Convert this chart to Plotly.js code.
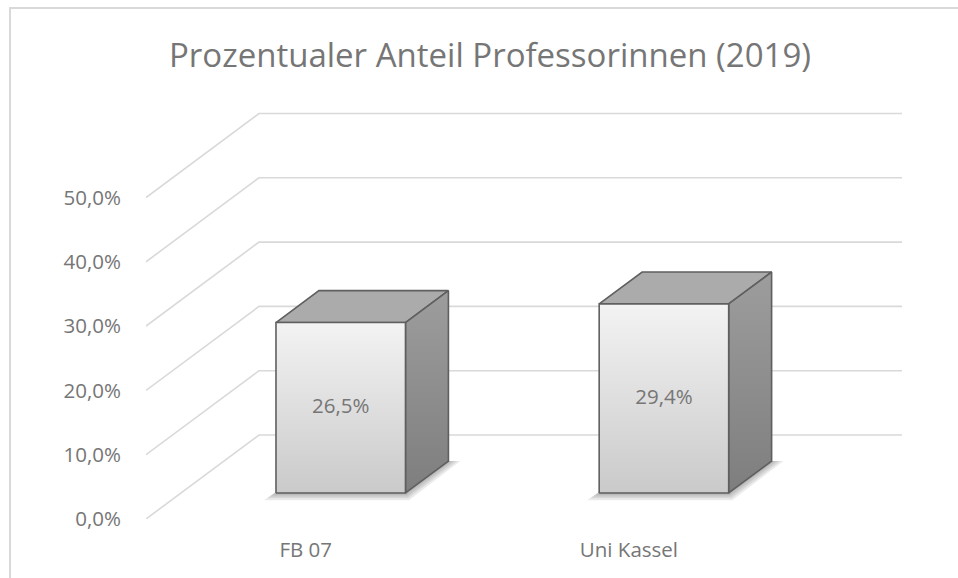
<!DOCTYPE html>
<html>
<head>
<meta charset="utf-8">
<script src="https://cdn.plot.ly/plotly-3.0.1.min.js"></script>
<style>
  html, body { margin: 0; padding: 0; background: #ffffff; overflow: hidden; }
  #chart { position: absolute; left: 0; top: 0; width: 958px; height: 578px; }
  #frame { position: absolute; left: 9px; top: 7px; width: 1000px; height: 1000px;
           border: 2px solid #d9d9d9; pointer-events: none; }
</style>
</head>
<body>
<div id="chart"></div>
<div id="frame"></div>
<script>
// ---- data ----
const categories = ['FB 07', 'Uni Kassel'];
const values = [26.5, 29.4];
const yTicks = [0, 10, 20, 30, 40, 50];
const chartTitle = 'Prozentualer Anteil Professorinnen (2019)';

// ---- layout geometry (pixels) ----
const W = 958, H = 578;
const PLOT_L = 146, PLOT_R = 902, PLOT_T = 90, PLOT_B = 519;
const PX_PER_CAT = 323.2, PX_PER_PCT = 6.43, CAT0_PX = 305.7;
const xRange = [(PLOT_L - CAT0_PX) / PX_PER_CAT, (PLOT_R - CAT0_PX) / PX_PER_CAT];
const yRange = [0, (PLOT_B - PLOT_T) / PX_PER_PCT];
const DX = 113 / PX_PER_CAT, DY = 84 / PX_PER_PCT;   // full depth offset
const D0 = 0.31, D1 = 0.69;                            // bar front/back depth
const BW = 129.5 / PX_PER_CAT;                         // bar width

const P = (x, v, d) => [x + d * DX, v + d * DY];
const fmt = v => v.toFixed(1).replace('.', ',') + '%';

const traces = [];

// gridlines: left wall diagonals + back wall horizontals
const gx = [], gy = [];
yTicks.forEach(v => {
  const a = P(xRange[0], v, 0), b = P(xRange[0], v, 1);
  gx.push(a[0], b[0], xRange[1], null);
  gy.push(a[1], b[1], b[1], null);
});
traces.push({ x: gx, y: gy, type: 'scatter', mode: 'lines',
  line: { color: '#d9d9d9', width: 1.6 }, hoverinfo: 'skip' });

function poly(pts) {
  return { x: pts.map(p => p[0]).concat([pts[0][0]]), y: pts.map(p => p[1]).concat([pts[0][1]]) };
}

categories.forEach((c, i) => {
  const v = values[i];
  const xl = i - BW / 2, xr = i + BW / 2;
  // soft shadow around the footprint
  [12, 9, 6, 3].forEach(e => {
    const ex = e / PX_PER_CAT, ey = e / PX_PER_PCT * 0.6;
    const pts = [
      [P(xl, 0, D0)[0] - ex, P(xl, 0, D0)[1] - ey],
      [P(xr, 0, D0)[0] + ex * 0.3, P(xr, 0, D0)[1] - ey],
      [P(xr, 0, D1)[0] + ex, P(xr, 0, D1)[1]],
      [P(xl, 0, D1)[0], P(xl, 0, D1)[1]]
    ];
    const pg = poly(pts);
    traces.push({ x: pg.x, y: pg.y, type: 'scatter', mode: 'none', fill: 'toself',
      fillcolor: 'rgba(0,0,0,0.08)', hoverinfo: 'skip' });
  });
  // top face
  let pg = poly([P(xl, v, D0), P(xr, v, D0), P(xr, v, D1), P(xl, v, D1)]);
  traces.push({ x: pg.x, y: pg.y, type: 'scatter', mode: 'lines', fill: 'toself',
    fillcolor: '#ababab', line: { color: '#5f5f5f', width: 1.6 }, hoverinfo: 'skip' });
  // side face
  pg = poly([P(xr, 0, D0), P(xr, v, D0), P(xr, v, D1), P(xr, 0, D1)]);
  traces.push({ x: pg.x, y: pg.y, type: 'scatter', mode: 'lines', fill: 'toself',
    fillcolor: '#8c8c8c',
    fillgradient: { type: 'vertical', colorscale: [[0, '#7e7e7e'], [1, '#9d9d9d']] },
    line: { color: '#5f5f5f', width: 1.6 }, hoverinfo: 'skip' });
  // front face
  pg = poly([P(xl, 0, D0), P(xr, 0, D0), P(xr, v, D0), P(xl, v, D0)]);
  traces.push({ x: pg.x, y: pg.y, type: 'scatter', mode: 'lines', fill: 'toself',
    fillcolor: '#dedede',
    fillgradient: { type: 'vertical', colorscale: [[0, '#cacaca'], [1, '#f3f3f3']] },
    line: { color: '#5f5f5f', width: 1.6 }, hoverinfo: 'skip' });
});

// value labels on the front faces
traces.push({
  x: categories.map((c, i) => P(i, 0, D0)[0]),
  y: values.map(v => v / 2 + D0 * DY),
  text: values.map(fmt),
  type: 'scatter', mode: 'text', textposition: 'middle center',
  textfont: { family: 'Open Sans', size: 20.5, color: '#767676' },
  hoverinfo: 'skip'
});

const layout = {
  width: W, height: H,
  margin: { l: PLOT_L, r: W - PLOT_R, t: PLOT_T, b: H - PLOT_B, pad: 0 },
  paper_bgcolor: '#ffffff', plot_bgcolor: 'rgba(0,0,0,0)',
  showlegend: false, hovermode: false,
  separators: ',.',
  title: {
    text: chartTitle, x: 490 / W, xref: 'container', xanchor: 'center',
    y: 1 - 55 / H, yref: 'container', yanchor: 'middle',
    font: { family: 'Open Sans', size: 33, color: '#767676' }
  },
  xaxis: {
    range: xRange, showgrid: false, zeroline: false, showline: false,
    tickmode: 'array', tickvals: categories.map((c, i) => i), ticktext: categories,
    ticks: 'outside', ticklen: 12, tickcolor: 'rgba(0,0,0,0)',
    tickfont: { family: 'Open Sans', size: 20.5, color: '#767676' }, fixedrange: true
  },
  yaxis: {
    range: yRange, showgrid: false, zeroline: false, showline: false,
    tickmode: 'array', tickvals: yTicks, ticktext: yTicks.map(fmt),
    ticks: 'outside', ticklen: 20, tickcolor: 'rgba(0,0,0,0)',
    tickfont: { family: 'Open Sans', size: 20.5, color: '#767676' }, fixedrange: true
  }
};

Plotly.newPlot('chart', traces, layout, { displayModeBar: false, staticPlot: true });
</script>
</body>
</html>
